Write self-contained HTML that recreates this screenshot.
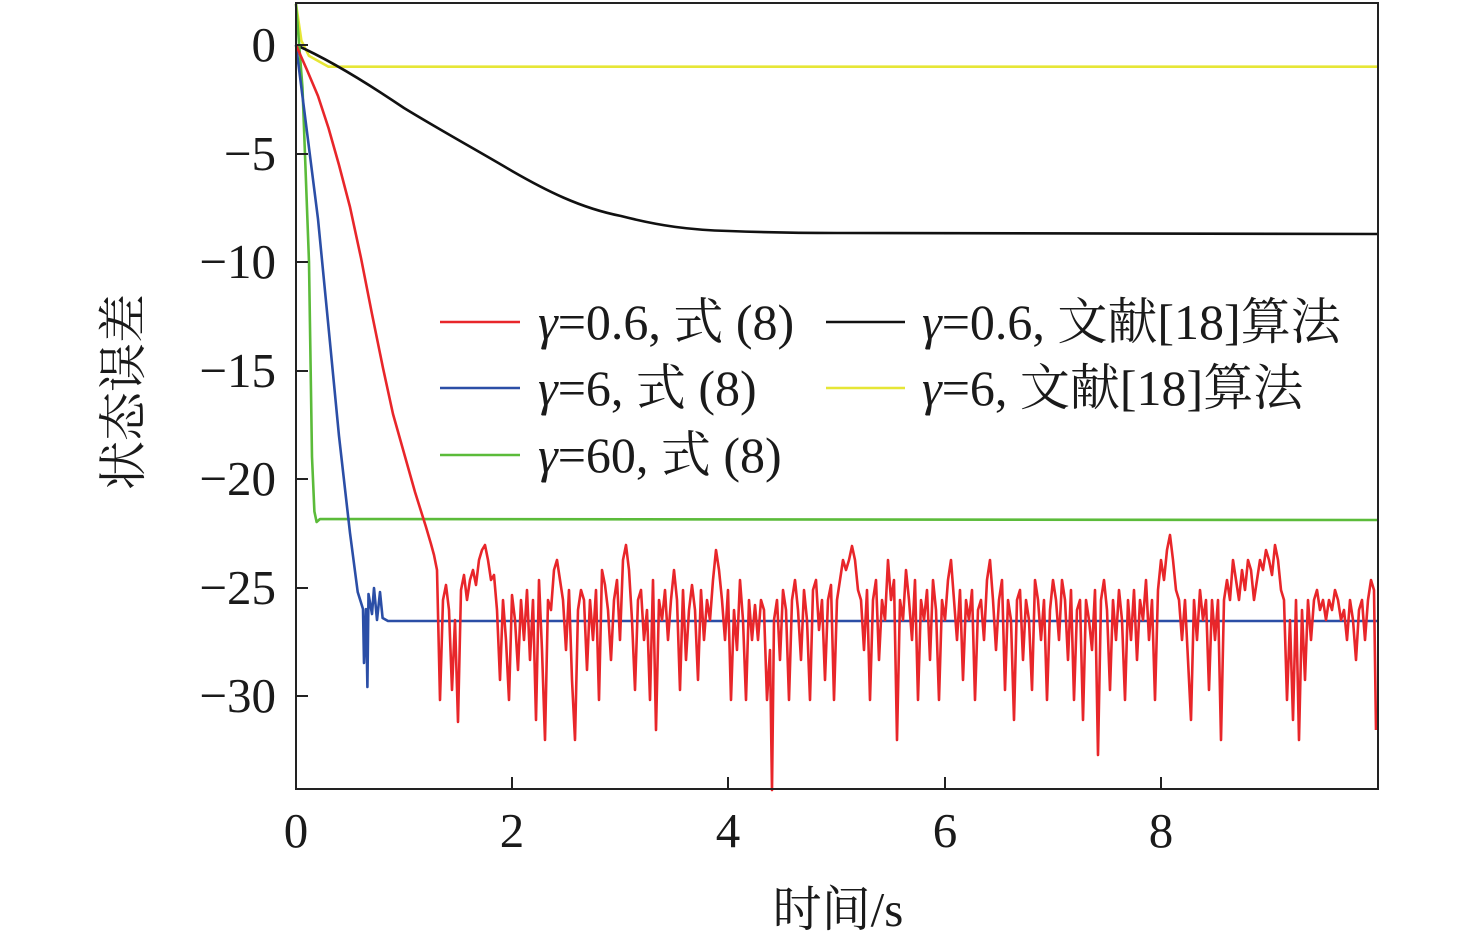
<!DOCTYPE html>
<html><head><meta charset="utf-8"><style>
body{margin:0;background:#fff}
svg text{font-family:"Liberation Serif","Times New Roman","Noto Serif CJK SC",serif;fill:#1a1a1a}
</style></head><body>
<svg width="1476" height="945" viewBox="0 0 1476 945" xmlns="http://www.w3.org/2000/svg">
<rect x="0" y="0" width="1476" height="945" fill="#fff"/>
<g fill="none" stroke-width="2.6" stroke-linejoin="round">
<path stroke="#e6e636" d="M296,3.8L301.4,40.7L309,55.9L328.5,66.7L1378,66.7"/>
<path stroke="#111" d="M296,45C330,60 370,85 404,108C440,130 480,152 512,171C545,190 580,208 621,216C660,226 690,230 729,231C780,233 830,233 837,233L1378,234"/>
<path stroke="#5bbb3a" d="M296,4L302.5,88L309,262L312,457L314.4,511.5L316.6,522L320,519L1378,520"/>
<path stroke="#2b4ea6" d="M296,45L307,132L318,219L328.5,327L339,436L350,533L357.7,592L363,609L364,663L366,609L367.4,687L368.5,594L372,614L374,588L377,620L380,592L382.6,618L388,621L1378,621"/>
<path stroke="#e8262a" d="M296,45L307,70L318,96L328.5,128L339,165L350,207L361,258L372,314L383,368L393,414L404,453L415,492L426,527L431,544L434,555L437,570L440,700L443,600L446,585L449,610L452,690L455,620L458,722L461,590L464,575L467,600L470,580L473,570L476,585L479,560L482,550L485,545L488,560L491,580L494,575L497,610L500,680L503,600L506,640L509,700L512,595L515,620L518,670L521,600L524,640L527,590L530,660L533,600L536,720L539,580L542,650L545,740L548,600L551,610L554,570L557,560L560,580L563,600L566,650L569,590L572,680L575,740L578,610L581,590L584,600L587,670L590,600L593,640L596,590L599,700L602,570L605,585L608,610L611,660L614,600L617,580L620,640L623,560L626,545L629,570L632,620L635,690L638,600L641,590L644,640L647,610L650,700L653,580L656,730L659,600L662,620L665,590L668,640L671,600L674,570L677,600L680,690L683,590L686,660L689,610L692,585L695,610L698,680L701,590L704,640L707,600L710,620L713,580L716,550L719,570L722,600L725,640L728,590L731,700L734,610L737,650L740,580L743,620L746,700L749,600L752,640L755,605L758,640L761,600L764,610L767,700L770,650L772,790L774,620L777,600L780,660L783,590L786,610L789,700L792,600L795,580L798,610L801,660L804,590L807,620L810,700L813,590L816,580L819,630L822,600L825,680L828,600L831,585L834,700L837,600L840,580L843,560L846,570L849,560L852,546L855,560L858,590L861,600L864,650L867,590L870,700L873,600L876,580L879,660L882,600L885,620L888,560L891,600L894,580L897,740L900,600L903,620L906,570L909,600L912,640L915,580L918,700L921,600L924,620L927,590L930,660L933,580L936,610L939,700L942,600L945,620L948,580L951,560L954,600L957,640L960,590L963,680L966,600L969,620L972,590L975,700L978,610L981,600L984,640L987,580L990,560L993,600L996,650L999,600L1002,580L1005,690L1008,600L1011,620L1014,720L1017,600L1020,590L1023,660L1026,600L1029,620L1032,690L1035,580L1038,600L1041,640L1044,600L1047,700L1050,610L1053,580L1056,600L1059,640L1062,580L1065,600L1068,660L1071,590L1074,700L1077,610L1080,600L1083,720L1086,600L1089,620L1092,650L1095,590L1098,755L1101,600L1104,580L1107,610L1110,690L1113,600L1116,640L1119,590L1122,620L1125,700L1128,600L1131,640L1134,590L1137,660L1140,600L1143,620L1146,580L1149,640L1152,600L1155,700L1158,590L1161,560L1164,580L1167,550L1170,535L1173,560L1176,590L1179,600L1182,640L1185,600L1188,660L1191,720L1194,600L1197,640L1200,590L1203,620L1206,600L1209,690L1212,600L1215,640L1218,600L1221,740L1224,600L1227,580L1230,600L1233,560L1236,580L1239,600L1242,570L1245,590L1248,560L1251,570L1254,600L1257,580L1260,560L1263,570L1266,550L1269,560L1272,575L1275,545L1278,560L1281,590L1284,600L1287,700L1290,620L1293,720L1296,600L1299,740L1302,610L1305,680L1308,600L1311,640L1314,600L1317,590L1320,610L1323,600L1326,620L1329,600L1332,610L1335,590L1338,600L1341,620L1344,610L1347,640L1350,600L1353,620L1356,660L1359,610L1362,600L1365,640L1368,600L1371,580L1374,590L1376,730"/>
</g>
<rect x="296" y="3" width="1082" height="786" fill="none" stroke="#222" stroke-width="2"/>
<g stroke="#222" stroke-width="2">
<line x1="512" y1="789" x2="512" y2="777"/><line x1="728" y1="789" x2="728" y2="777"/>
<line x1="945" y1="789" x2="945" y2="777"/><line x1="1161" y1="789" x2="1161" y2="777"/>
<line x1="296" y1="45" x2="308" y2="45"/><line x1="296" y1="154" x2="308" y2="154"/>
<line x1="296" y1="262" x2="308" y2="262"/><line x1="296" y1="371" x2="308" y2="371"/>
<line x1="296" y1="479" x2="308" y2="479"/><line x1="296" y1="588" x2="308" y2="588"/>
<line x1="296" y1="696" x2="308" y2="696"/>
</g>
<g font-size="49" text-anchor="end">
<text x="276" y="61">0</text><text x="276" y="170">−5</text><text x="276" y="278">−10</text>
<text x="276" y="387">−15</text><text x="276" y="495">−20</text><text x="276" y="604">−25</text>
<text x="276" y="712">−30</text>
</g>
<g font-size="49" text-anchor="middle">
<text x="296" y="847">0</text><text x="512" y="847">2</text><text x="728" y="847">4</text>
<text x="945" y="847">6</text><text x="1161" y="847">8</text>
<text x="838" y="926">时间/s</text>
</g>
<text font-size="49" text-anchor="middle" transform="translate(140,392) rotate(-90)">状态误差</text>
<g stroke-width="2.6">
<line x1="440" y1="322" x2="520" y2="322" stroke="#e8262a"/>
<line x1="440" y1="388" x2="520" y2="388" stroke="#2b4ea6"/>
<line x1="440" y1="455" x2="520" y2="455" stroke="#5bbb3a"/>
<line x1="826" y1="322" x2="905" y2="322" stroke="#111"/>
<line x1="826" y1="388" x2="905" y2="388" stroke="#e6e636"/>
</g>
<g font-size="50">
<text x="538" y="339"><tspan font-style="italic">γ</tspan>=0.6, 式 (8)</text>
<text x="538" y="405"><tspan font-style="italic">γ</tspan>=6, 式 (8)</text>
<text x="538" y="472"><tspan font-style="italic">γ</tspan>=60, 式 (8)</text>
<text x="922" y="339"><tspan font-style="italic">γ</tspan>=0.6, 文献[18]算法</text>
<text x="922" y="405"><tspan font-style="italic">γ</tspan>=6, 文献[18]算法</text>
</g>
</svg>
</body></html>
